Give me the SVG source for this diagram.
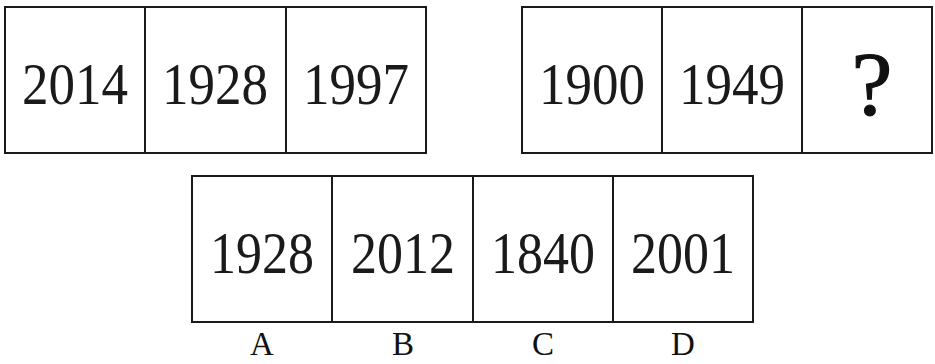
<svg xmlns="http://www.w3.org/2000/svg" width="935" height="364" viewBox="0 0 935 364">
<style>
.box{fill:#fff;stroke:#1a1a1a;stroke-width:2}
.num{font-family:"Liberation Serif","DejaVu Serif",serif;font-size:60px;fill:#1a1a1a;text-anchor:middle}
.lab{font-family:"Liberation Serif","DejaVu Serif",serif;font-size:33px;fill:#111;text-anchor:middle}
.q{font-family:"Liberation Serif","DejaVu Serif",serif;font-size:92px;fill:#111;stroke:#111;stroke-width:1.2;text-anchor:middle}
</style>
<rect width="935" height="364" fill="#fff"/>
<g id="row1">
  <g id="c1"><rect class="box" x="5" y="7" width="140" height="146"/><text class="num" x="75" y="104" textLength="106" lengthAdjust="spacingAndGlyphs">2014</text></g>
  <g id="c2"><rect class="box" x="145" y="7" width="141" height="146"/><text class="num" x="215" y="104" textLength="106" lengthAdjust="spacingAndGlyphs">1928</text></g>
  <g id="c3"><rect class="box" x="286" y="7" width="140" height="146"/><text class="num" x="356" y="104" textLength="106" lengthAdjust="spacingAndGlyphs">1997</text></g>
</g>
<g id="row2">
  <g id="c4"><rect class="box" x="522" y="7" width="140" height="146"/><text class="num" x="592" y="104" textLength="106" lengthAdjust="spacingAndGlyphs">1900</text></g>
  <g id="c5"><rect class="box" x="662" y="7" width="140" height="146"/><text class="num" x="732" y="104" textLength="106" lengthAdjust="spacingAndGlyphs">1949</text></g>
  <g id="c6"><rect class="box" x="802" y="7" width="130" height="146"/><text class="q" x="872" y="115">?</text></g>
</g>
<g id="options">
  <g id="A"><rect class="box" x="192" y="176" width="140" height="146"/><text class="num" x="262" y="273" textLength="104" lengthAdjust="spacingAndGlyphs">1928</text><text class="lab" x="262" y="355">A</text></g>
  <g id="B"><rect class="box" x="332" y="176" width="141" height="146"/><text class="num" x="403" y="273" textLength="104" lengthAdjust="spacingAndGlyphs">2012</text><text class="lab" x="403" y="355">B</text></g>
  <g id="C"><rect class="box" x="473" y="176" width="140" height="146"/><text class="num" x="543" y="273" textLength="104" lengthAdjust="spacingAndGlyphs">1840</text><text class="lab" x="543" y="355">C</text></g>
  <g id="D"><rect class="box" x="613" y="176" width="140" height="146"/><text class="num" x="683" y="273" textLength="104" lengthAdjust="spacingAndGlyphs">2001</text><text class="lab" x="683" y="355">D</text></g>
</g>
<g id="connectors"/>
</svg>
